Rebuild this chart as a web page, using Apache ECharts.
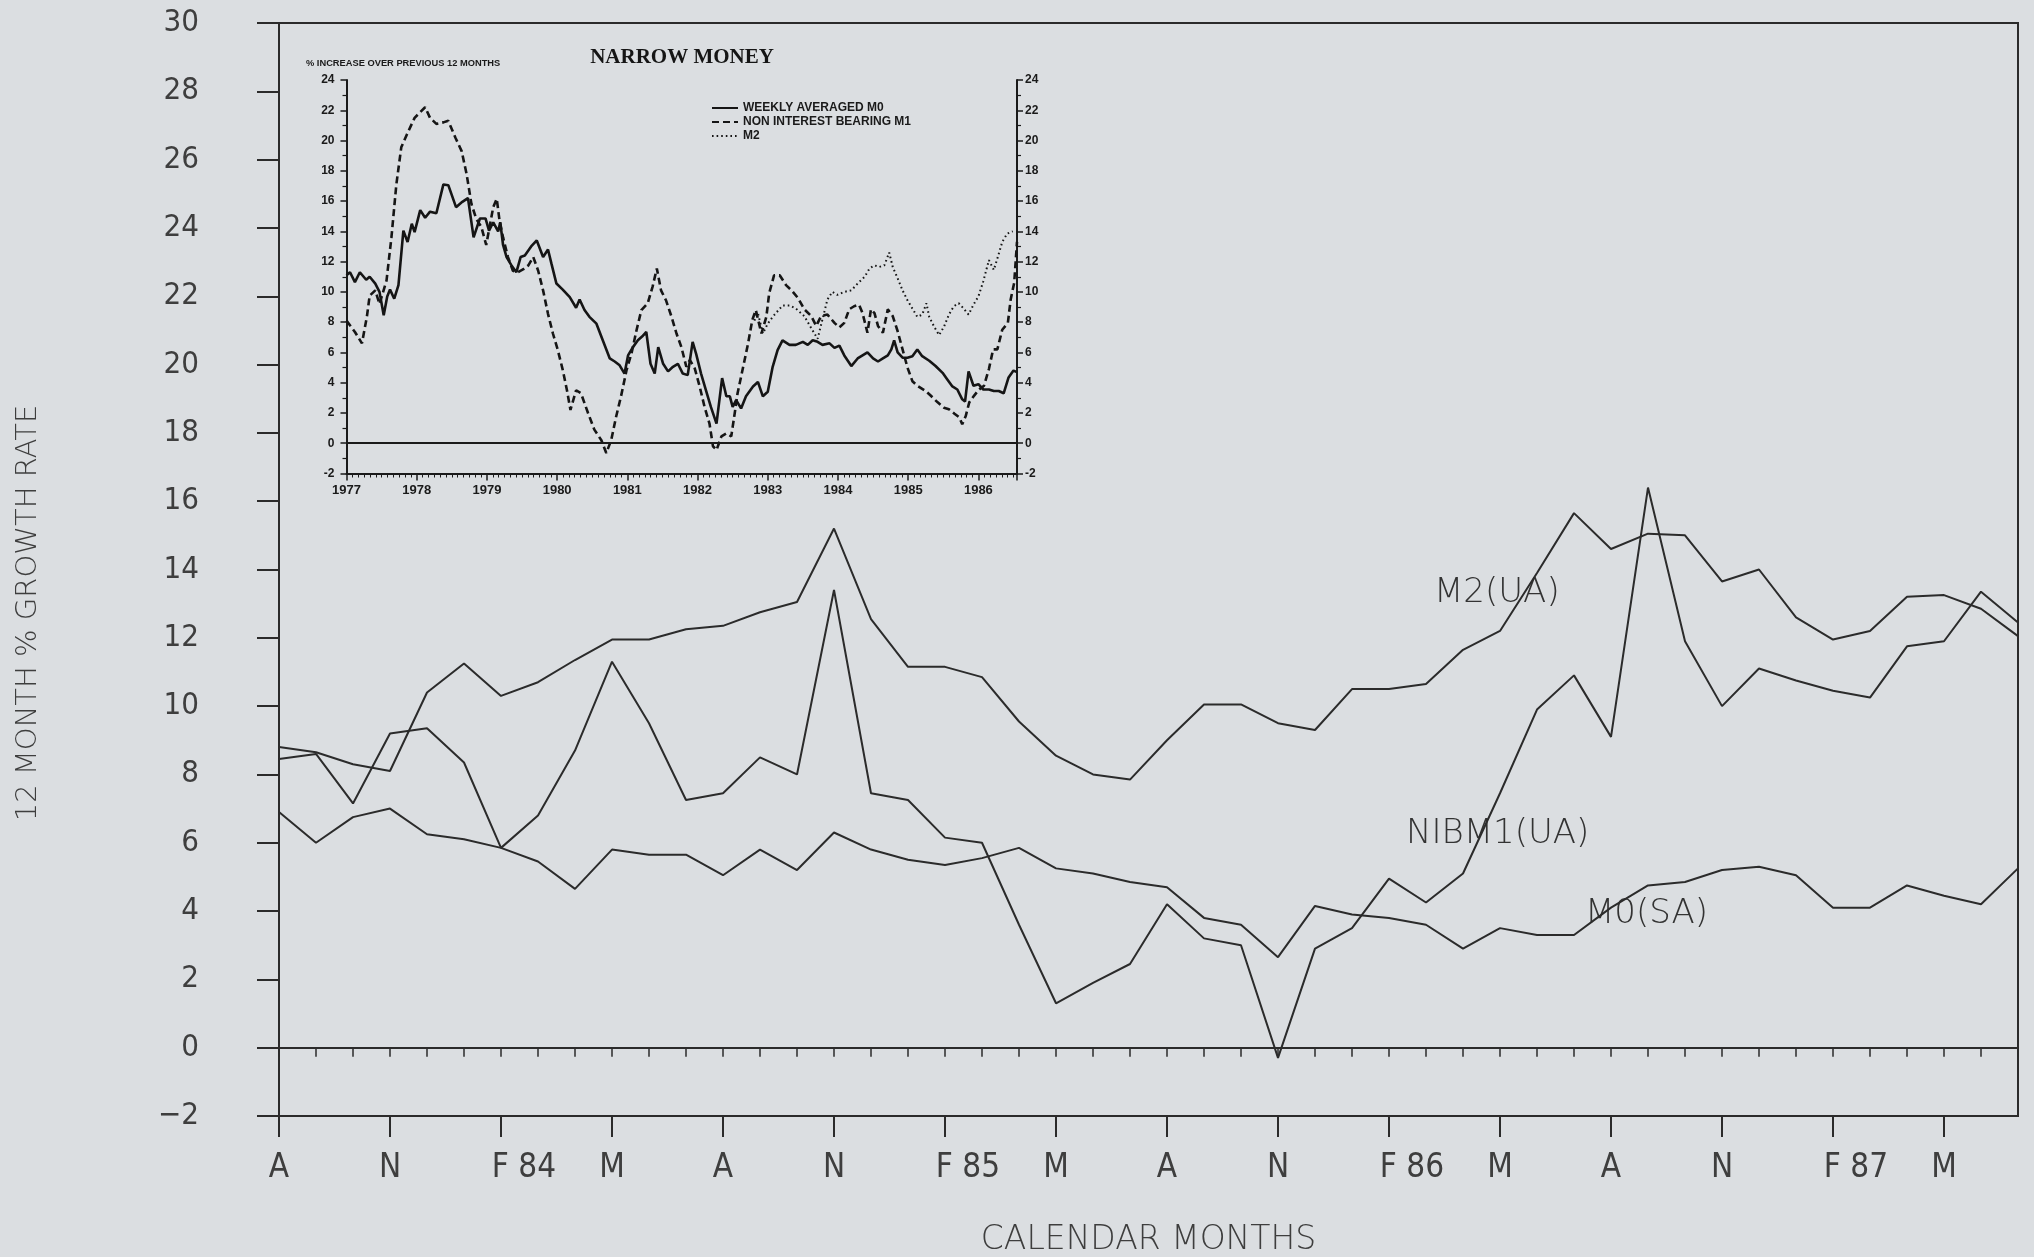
<!DOCTYPE html>
<html>
<head>
<meta charset="utf-8">
<script src="https://cdn.jsdelivr.net/npm/echarts@6/dist/echarts.min.js"></script>
<style>
  html, body { margin: 0; padding: 0; background: #dbdee1; }
  #chart { width: 2034px; height: 1257px; }
</style>
</head>
<body>
<div id="chart"></div>
<script>
// ---- Main chart: monthly 12-month growth rates, Aug 1983 - Jul 1987 ----
const monthKeys = ['1983-08','1983-09','1983-10','1983-11','1983-12',
  '1984-01','1984-02','1984-03','1984-04','1984-05','1984-06','1984-07','1984-08','1984-09','1984-10','1984-11','1984-12',
  '1985-01','1985-02','1985-03','1985-04','1985-05','1985-06','1985-07','1985-08','1985-09','1985-10','1985-11','1985-12',
  '1986-01','1986-02','1986-03','1986-04','1986-05','1986-06','1986-07','1986-08','1986-09','1986-10','1986-11','1986-12',
  '1987-01','1987-02','1987-03','1987-04','1987-05','1987-06','1987-07'];

// labels on every third month, starting with August 1983
const quarterTickLabels = ['A','N','F 84','M','A','N','F 85','M','A','N','F 86','M','A','N','F 87','M'];

const m2UA = [8.8, 8.65, 8.3, 8.1, 10.4, 11.25, 10.3, 10.7, 11.35, 11.95,
  11.95, 12.25, 12.35, 12.75, 13.05, 15.2, 12.55, 11.15, 11.15, 10.85,
  9.55, 8.55, 8.0, 7.85, 9.0, 10.05, 10.05, 9.5, 9.3, 10.5,
  10.5, 10.65, 11.65, 12.2, 13.9, 15.65, 14.6, 15.05, 15.0, 13.65,
  14.0, 12.6, 11.95, 12.2, 13.2, 13.25, 12.85, 12.05];

const nibm1UA = [8.45, 8.6, 7.15, 9.2, 9.35, 8.35, 5.85, 6.8, 8.7, 11.3,
  9.5, 7.25, 7.45, 8.5, 8.0, 13.4, 7.45, 7.25, 6.15, 6.0,
  3.6, 1.3, 1.9, 2.45, 4.2, 3.2, 3.0, -0.3, 2.9, 3.5,
  4.95, 4.25, 5.1, 7.45, 9.9, 10.9, 9.1, 16.4, 11.9, 10.0,
  11.1, 10.75, 10.45, 10.25, 11.75, 11.9, 13.35, 12.45];

const m0SA = [6.9, 6.0, 6.75, 7.0, 6.25, 6.1, 5.85, 5.45, 4.65, 5.8,
  5.65, 5.65, 5.05, 5.8, 5.2, 6.3, 5.8, 5.5, 5.35, 5.55,
  5.85, 5.25, 5.1, 4.85, 4.7, 3.8, 3.6, 2.65, 4.15, 3.9,
  3.8, 3.6, 2.9, 3.5, 3.3, 3.3, 4.1, 4.75, 4.85, 5.2,
  5.3, 5.05, 4.1, 4.1, 4.75, 4.45, 4.2, 5.25];

// ---- Inset "Narrow money": [year, % increase over previous 12 months] ----
const insetM0 = [
  [1977.00,11.1],[1977.05,11.3],[1977.12,10.65],[1977.19,11.3],[1977.28,10.8],[1977.33,11.0],[1977.41,10.55],
  [1977.47,10.0],[1977.53,8.45],[1977.58,9.7],[1977.62,10.15],[1977.68,9.55],[1977.74,10.45],[1977.81,14.05],
  [1977.87,13.3],[1977.93,14.5],[1977.97,13.95],[1978.05,15.4],[1978.12,14.9],[1978.19,15.3],[1978.28,15.2],
  [1978.38,17.1],[1978.45,17.05],[1978.56,15.6],[1978.65,15.95],[1978.73,16.2],[1978.81,13.6],[1978.90,14.85],
  [1978.98,14.85],[1979.03,14.05],[1979.09,14.6],[1979.16,14.0],[1979.19,14.6],[1979.23,13.1],[1979.28,12.3],
  [1979.35,11.75],[1979.42,11.3],[1979.48,12.3],[1979.54,12.4],[1979.63,13.0],[1979.71,13.4],[1979.80,12.3],
  [1979.87,12.8],[1979.92,11.85],[1979.99,10.55],[1980.08,10.15],[1980.18,9.65],[1980.27,8.95],[1980.32,9.5],
  [1980.39,8.8],[1980.46,8.35],[1980.56,7.9],[1980.65,6.8],[1980.75,5.6],[1980.82,5.4],[1980.89,5.15],
  [1980.96,4.6],[1981.01,5.8],[1981.08,6.35],[1981.15,6.8],[1981.21,7.05],[1981.27,7.35],[1981.33,5.25],
  [1981.39,4.6],[1981.44,6.35],[1981.51,5.25],[1981.58,4.75],[1981.65,5.05],[1981.72,5.25],[1981.79,4.6],
  [1981.86,4.5],[1981.93,6.7],[1981.98,5.9],[1982.05,4.6],[1982.12,3.5],[1982.19,2.4],[1982.27,1.3],
  [1982.35,4.3],[1982.41,3.1],[1982.46,3.1],[1982.50,2.4],[1982.55,2.85],[1982.62,2.3],[1982.69,3.1],
  [1982.79,3.75],[1982.86,4.05],[1982.93,3.1],[1983.00,3.4],[1983.07,5.05],[1983.14,6.15],[1983.21,6.8],
  [1983.31,6.5],[1983.40,6.5],[1983.50,6.7],[1983.57,6.5],[1983.64,6.8],[1983.71,6.7],[1983.78,6.5],
  [1983.88,6.6],[1983.95,6.3],[1984.02,6.45],[1984.09,5.8],[1984.19,5.1],[1984.28,5.6],[1984.35,5.8],
  [1984.42,6.0],[1984.50,5.6],[1984.57,5.4],[1984.64,5.6],[1984.71,5.8],[1984.76,6.2],[1984.80,6.8],
  [1984.85,6.0],[1984.92,5.65],[1984.99,5.65],[1985.06,5.75],[1985.13,6.2],[1985.20,5.75],[1985.30,5.45],
  [1985.39,5.1],[1985.49,4.65],[1985.56,4.2],[1985.63,3.75],[1985.70,3.55],[1985.77,2.9],[1985.81,2.75],
  [1985.86,4.75],[1985.93,3.8],[1986.00,3.9],[1986.07,3.55],[1986.15,3.55],[1986.22,3.45],[1986.29,3.45],
  [1986.36,3.3],[1986.43,4.35],[1986.50,4.8],[1986.55,4.7]];

const insetNibm1 = [
  [1977.00,8.1],[1977.12,7.35],[1977.22,6.6],[1977.29,8.35],[1977.33,9.75],[1977.41,10.1],[1977.47,9.2],
  [1977.57,10.75],[1977.64,13.6],[1977.71,17.1],[1977.78,19.55],[1977.86,20.4],[1977.97,21.5],[1978.12,22.2],
  [1978.19,21.5],[1978.28,21.1],[1978.38,21.2],[1978.45,21.3],[1978.55,20.2],[1978.64,19.3],[1978.71,17.8],
  [1978.78,15.8],[1978.85,14.8],[1978.92,14.3],[1978.99,13.1],[1979.09,15.6],[1979.14,16.15],[1979.18,14.7],
  [1979.23,13.6],[1979.30,12.3],[1979.37,11.4],[1979.44,11.3],[1979.52,11.5],[1979.59,11.75],[1979.66,12.3],
  [1979.73,11.4],[1979.80,10.1],[1979.87,8.55],[1979.94,7.25],[1980.01,6.15],[1980.08,4.85],[1980.14,3.5],
  [1980.19,2.2],[1980.27,3.5],[1980.34,3.3],[1980.44,2.0],[1980.53,0.9],[1980.63,0.2],[1980.70,-0.65],
  [1980.77,0.2],[1980.84,1.75],[1980.91,3.1],[1980.99,4.85],[1981.06,5.95],[1981.13,7.45],[1981.20,8.8],
  [1981.29,9.25],[1981.36,10.35],[1981.42,11.55],[1981.48,10.1],[1981.55,9.45],[1981.63,8.35],[1981.70,7.25],
  [1981.77,6.35],[1981.84,5.05],[1981.89,5.5],[1981.96,4.95],[1982.03,3.75],[1982.10,2.4],[1982.17,1.3],
  [1982.22,-0.2],[1982.27,-0.45],[1982.34,0.45],[1982.41,0.65],[1982.48,0.45],[1982.53,2.0],[1982.57,3.3],
  [1982.65,5.05],[1982.72,6.6],[1982.78,8.15],[1982.83,8.8],[1982.91,7.25],[1982.98,8.35],[1983.02,9.9],
  [1983.09,11.1],[1983.17,11.1],[1983.26,10.45],[1983.34,10.1],[1983.43,9.6],[1983.52,8.85],[1983.62,8.4],
  [1983.69,7.75],[1983.76,8.4],[1983.85,8.5],[1983.95,7.95],[1984.02,7.65],[1984.09,7.95],[1984.16,8.85],
  [1984.23,9.05],[1984.30,9.15],[1984.35,8.6],[1984.42,7.3],[1984.47,8.85],[1984.52,8.6],[1984.57,7.75],
  [1984.64,7.3],[1984.71,8.85],[1984.78,8.4],[1984.85,7.4],[1984.92,6.2],[1984.99,5.0],[1985.06,4.1],
  [1985.13,3.8],[1985.25,3.45],[1985.32,3.15],[1985.42,2.7],[1985.51,2.35],[1985.58,2.25],[1985.66,1.95],
  [1985.73,1.7],[1985.77,1.25],[1985.82,1.8],[1985.87,2.7],[1985.94,3.15],[1986.01,3.55],[1986.08,3.8],
  [1986.15,4.9],[1986.21,6.2],[1986.27,6.2],[1986.34,7.5],[1986.42,7.95],[1986.46,9.5],[1986.51,10.6],
  [1986.55,13.3]];

const insetM2 = [
  [1982.81,8.1],[1982.86,8.6],[1982.93,7.25],[1983.00,7.9],[1983.07,8.35],[1983.21,9.1],[1983.31,9.1],
  [1983.40,8.9],[1983.52,8.4],[1983.62,7.6],[1983.71,6.9],[1983.78,8.2],[1983.85,9.5],[1983.92,10.0],
  [1983.99,9.8],[1984.09,10.0],[1984.19,10.1],[1984.28,10.55],[1984.38,11.0],[1984.45,11.55],[1984.52,11.75],
  [1984.59,11.65],[1984.66,11.75],[1984.73,12.6],[1984.78,11.65],[1984.85,10.9],[1984.92,10.1],[1984.99,9.45],
  [1985.06,8.9],[1985.13,8.35],[1985.20,8.5],[1985.26,9.25],[1985.30,8.35],[1985.37,7.7],[1985.44,7.15],
  [1985.51,7.7],[1985.58,8.5],[1985.65,9.05],[1985.72,9.25],[1985.79,8.9],[1985.86,8.5],[1985.93,9.15],
  [1986.00,9.7],[1986.07,10.7],[1986.15,12.1],[1986.22,11.45],[1986.27,12.2],[1986.34,13.3],[1986.41,13.85],
  [1986.49,14.0]];

// ---- styling ----
const PAPER = '#dbdee1';
const INK = '#2b2b2b';
const SOFT_INK = '#3e3e3e';
const PLOT_FONT = "'DejaVu Sans Condensed', 'DejaVu Sans', sans-serif";
const INSET_FONT = "'Liberation Sans', Arial, sans-serif";
const INSET_NARROW = "'Liberation Sans Narrow', 'Liberation Sans', sans-serif";

const chart = echarts.init(document.getElementById('chart'), null, { renderer: 'canvas' });

const mainLine = (name, data) => ({
  name, type: 'line', xAxisIndex: 0, yAxisIndex: 0, data,
  symbol: 'none', silent: true, z: 3,
  lineStyle: { color: INK, width: 2 }
});

const insetTick = { show: true, length: 6, lineStyle: { color: '#1a1a1a', width: 1.5 } };
const textStyleAt = (text, font, fill, align) => ({
  text, font, fill, align, verticalAlign: 'middle', textAlign: align, textVerticalAlign: 'middle'
});

const option = {
  backgroundColor: PAPER,
  animation: false,
  grid: [
    { left: 279, right: 16, top: 23, bottom: 141, show: true, borderColor: INK, borderWidth: 2,
      backgroundColor: 'transparent', outerBoundsMode: 'none', containLabel: false },
    { left: 346.5, right: 1017, top: 80, bottom: 783.5, show: false,
      outerBoundsMode: 'none', containLabel: false }
  ],
  xAxis: [
    {
      type: 'category', gridIndex: 0, data: monthKeys, boundaryGap: false,
      name: 'CALENDAR MONTHS', nameLocation: 'middle', nameGap: 108,
      nameTextStyle: { fontFamily: "'DejaVu Sans', sans-serif", fontWeight: 300, fontSize: 33, color: SOFT_INK },
      axisLine: { show: true, onZero: false, lineStyle: { color: INK, width: 2 } },
      axisTick: { show: true, interval: 2, length: 21, lineStyle: { color: INK, width: 2 } },
      axisLabel: {
        interval: 2, margin: 36, fontFamily: PLOT_FONT, fontWeight: 300, fontSize: 33, color: SOFT_INK,
        formatter: (v, i) => {
          const t = quarterTickLabels[Math.round(i / 3)] || '';
          return t.startsWith('F') ? '{f|' + t + '}' : t;
        },
        rich: { f: { padding: [0, 0, 0, 46], fontFamily: PLOT_FONT, fontWeight: 300, fontSize: 33, color: SOFT_INK } }
      },
      splitLine: { show: false }
    },
    {
      // monthly minor ticks along the bottom axis
      type: 'category', gridIndex: 0, data: monthKeys, boundaryGap: false, position: 'bottom',
      axisLine: { show: false }, axisLabel: { show: false },
      axisTick: { show: true, interval: 0, length: 9, lineStyle: { color: INK, width: 1.5 } },
      splitLine: { show: false }
    },
    {
      type: 'value', gridIndex: 1, min: 1977, max: 1986.55, interval: 1,
      axisLine: { show: true, onZero: false, lineStyle: { color: '#1a1a1a', width: 2 } },
      axisTick: { show: true, length: 7, lineStyle: { color: '#1a1a1a', width: 1.5 } },
      minorTick: { show: true, splitNumber: 12, length: 4, lineStyle: { color: '#1a1a1a', width: 1 } },
      axisLabel: {
        margin: 10, fontFamily: INSET_FONT, fontWeight: 'bold', fontSize: 13, color: '#1a1a1a',
        showMaxLabel: false,
        formatter: v => (Math.abs(v - Math.round(v)) < 1e-6 ? String(Math.round(v)) : '')
      },
      splitLine: { show: false }, minorSplitLine: { show: false }
    }
  ],
  yAxis: [
    {
      type: 'value', gridIndex: 0, min: -2, max: 30, interval: 2,
      axisLine: { show: true, onZero: false, lineStyle: { color: INK, width: 2 } },
      axisTick: { show: true, length: 22, lineStyle: { color: INK, width: 2 } },
      axisLabel: {
        margin: 80, fontFamily: PLOT_FONT, fontWeight: 300, fontSize: 31, color: SOFT_INK,
        formatter: v => (v < 0 ? '\u2212' + Math.abs(v) : String(v))
      },
      splitLine: { show: false }
    },
    {
      type: 'value', gridIndex: 1, min: -2, max: 24, interval: 2, position: 'left',
      axisLine: { show: true, onZero: false, lineStyle: { color: '#1a1a1a', width: 2 } },
      axisTick: insetTick,
      minorTick: { show: true, splitNumber: 2, length: 4, lineStyle: { color: '#1a1a1a', width: 1.2 } },
      axisLabel: { margin: 12, fontFamily: INSET_NARROW, fontWeight: 'bold', fontSize: 12, color: '#1a1a1a' },
      splitLine: { show: false }, minorSplitLine: { show: false }
    },
    {
      type: 'value', gridIndex: 1, min: -2, max: 24, interval: 2, position: 'right',
      axisLine: { show: true, onZero: false, lineStyle: { color: '#1a1a1a', width: 2 } },
      axisTick: insetTick,
      minorTick: { show: true, splitNumber: 2, length: 4, lineStyle: { color: '#1a1a1a', width: 1.2 } },
      axisLabel: { margin: 8, fontFamily: INSET_NARROW, fontWeight: 'bold', fontSize: 12, color: '#1a1a1a' },
      splitLine: { show: false }, minorSplitLine: { show: false }
    }
  ],
  legend: {
    data: ['WEEKLY AVERAGED M0', 'NON INTEREST BEARING M1', 'M2'],
    orient: 'vertical', left: 711, top: 102,
    itemWidth: 26, itemHeight: 12, itemGap: 2, padding: 0,
    selectedMode: false,
    itemStyle: { opacity: 0 },
    textStyle: { fontFamily: INSET_FONT, fontWeight: 'bold', fontSize: 12, color: '#1a1a1a' }
  },
  graphic: [
    { type: 'text', x: 28, y: 613, rotation: Math.PI / 2, silent: true,
      style: textStyleAt('12 MONTH % GROWTH RATE', "300 29px 'DejaVu Sans', sans-serif", SOFT_INK, 'center') },
    { type: 'text', x: 682, y: 58, silent: true,
      style: textStyleAt('NARROW MONEY', "bold 21px 'Liberation Serif', serif", '#151515', 'center') },
    { type: 'text', x: 306, y: 63, silent: true,
      style: textStyleAt('% INCREASE OVER PREVIOUS 12 MONTHS', "bold 9.3px 'Liberation Sans Narrow', sans-serif", '#1a1a1a', 'left') },
    { type: 'text', x: 1434, y: 593, silent: true,
      style: textStyleAt('M2(UA)', "300 34px 'DejaVu Sans', sans-serif", '#333', 'left') },
    { type: 'text', x: 1406, y: 834, silent: true,
      style: textStyleAt('NIBM1(UA)', "300 34px 'DejaVu Sans', sans-serif", '#333', 'left') },
    { type: 'text', x: 1585, y: 914, silent: true,
      style: textStyleAt('M0(SA)', "300 34px 'DejaVu Sans', sans-serif", '#333', 'left') }
  ],
  series: [
    mainLine('M2(UA)', m2UA),
    mainLine('NIBM1(UA)', nibm1UA),
    Object.assign(mainLine('M0(SA)', m0SA), {
      markLine: {
        silent: true, symbol: 'none', label: { show: false },
        lineStyle: { color: INK, width: 2, type: 'solid' },
        data: [{ yAxis: 0 }]
      }
    }),
    {
      name: 'WEEKLY AVERAGED M0', type: 'line', xAxisIndex: 2, yAxisIndex: 1, data: insetM0,
      symbol: 'none', silent: true, z: 4,
      itemStyle: { color: '#151515' },
      lineStyle: { color: '#151515', width: 2.6, type: 'solid' },
      markLine: {
        silent: true, symbol: 'none', label: { show: false },
        lineStyle: { color: '#1a1a1a', width: 2, type: 'solid' },
        data: [{ yAxis: 0 }]
      }
    },
    {
      name: 'NON INTEREST BEARING M1', type: 'line', xAxisIndex: 2, yAxisIndex: 1, data: insetNibm1,
      symbol: 'none', silent: true, z: 4,
      itemStyle: { color: '#151515' },
      lineStyle: { color: '#151515', width: 2.6, type: [7, 4] }
    },
    {
      name: 'M2', type: 'line', xAxisIndex: 2, yAxisIndex: 1, data: insetM2,
      symbol: 'none', silent: true, z: 4,
      itemStyle: { color: '#151515' },
      lineStyle: { color: '#151515', width: 2, type: [1.6, 3] }
    }
  ]
};

chart.setOption(option);
</script>
</body>
</html>
